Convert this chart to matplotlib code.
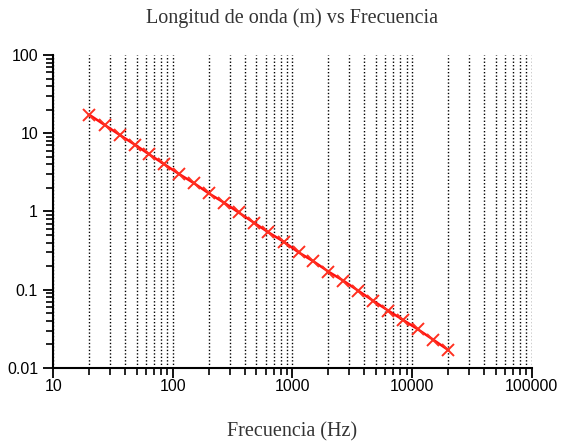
import numpy as np
import matplotlib as mpl
import matplotlib.pyplot as plt
from matplotlib.ticker import LogLocator, NullFormatter

mpl.rcParams['font.family'] = 'Liberation Sans'

# frequency (Hz) and wavelength (m)
freq = [20, 27, 36, 48, 63, 85, 113, 150, 200, 267, 355, 475, 630,
        845, 1125, 1500, 2000, 2670, 3550, 4740, 6320, 8430, 11240, 15000, 20000]
wavelength = [17.2, 12.7, 9.5, 7.15, 5.4, 4.0, 3.0, 2.3, 1.7, 1.3, 0.97,
              0.72, 0.54, 0.41, 0.30, 0.23, 0.17, 0.13, 0.097, 0.072,
              0.054, 0.041, 0.031, 0.023, 0.017]

x_major = [10, 100, 1000, 10000, 100000]
x_labels = ['10', '100', '1000', '10000', '100000']
y_major = [0.01, 0.1, 1, 10, 100]
y_labels = ['0.01', '0.1', '1', '10', '100']

fig = plt.figure(figsize=(5.64, 4.47), dpi=100)
ax = fig.add_axes([0.0945, 0.177, 0.848, 0.700])

ax.set_xscale('log')
ax.set_yscale('log')
ax.set_xlim(10, 100000)
ax.set_ylim(0.01, 100)

ax.plot(freq, wavelength, color='#ff1010', lw=1.8, marker='x',
        markersize=9, markeredgewidth=1.4, markeredgecolor='#ff3020', zorder=3)

ax.set_xticks(x_major)
ax.set_xticklabels(x_labels)
ax.set_yticks(y_major)
ax.set_yticklabels(y_labels)
ax.xaxis.set_minor_locator(LogLocator(base=10, subs=np.arange(2, 10)))
ax.yaxis.set_minor_locator(LogLocator(base=10, subs=np.arange(2, 10)))
ax.xaxis.set_minor_formatter(NullFormatter())
ax.yaxis.set_minor_formatter(NullFormatter())

ax.grid(True, axis='x', which='both', color='black', linestyle=(0, (1, 1.5)),
        linewidth=1.0)

for s in ['top', 'right']:
    ax.spines[s].set_visible(False)
for s in ['left', 'bottom']:
    ax.spines[s].set_linewidth(1.5)

ax.tick_params(which='major', length=7, width=1.3, labelsize=11.5)
ax.tick_params(axis='x', which='major', pad=1)
ax.tick_params(axis='y', which='major', pad=4)
ax.tick_params(which='minor', length=5, width=1.2)

ax.set_title('Longitud de onda (m) vs Frecuencia', family='Liberation Serif',
             fontsize=14.5, color='#333333', pad=23)
ax.set_xlabel('Frecuencia (Hz)', family='Liberation Serif', fontsize=14.5,
              color='#333333', labelpad=20)

fig.savefig('out.png', dpi=100)
